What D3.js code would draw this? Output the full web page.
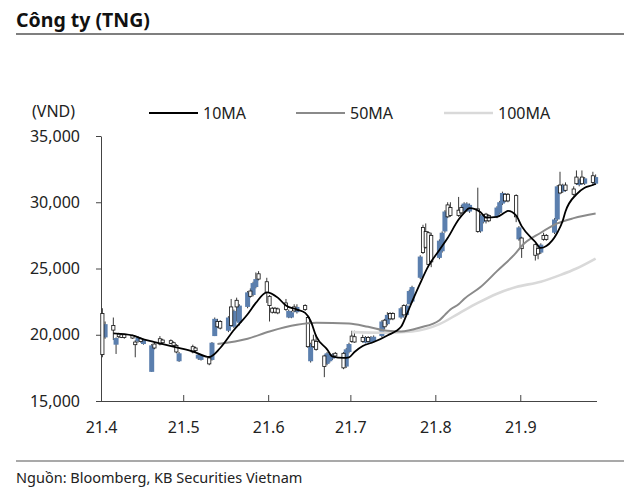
<!DOCTYPE html>
<html><head><meta charset="utf-8">
<script src="https://cdn.jsdelivr.net/npm/d3@7"></script>
<style>
html,body{margin:0;padding:0;background:#fff;}
svg{display:block;font-family:"Noto Sans",sans-serif;}
</style></head>
<body><svg id="c" width="640" height="493"></svg>
<script>
// ---- data ----
const dates = ["04-01","04-02","04-05","04-06","04-07","04-08","04-09","04-12","04-13","04-14","04-15","04-16","04-19","04-20","04-22","04-23","04-26","04-27","04-28","04-29",
"05-04","05-05","05-06","05-07","05-10","05-11","05-12","05-13","05-14","05-17","05-18","05-19","05-20","05-21","05-24","05-25","05-26","05-27","05-28","05-31",
"06-01","06-02","06-03","06-04","06-07","06-08","06-09","06-10","06-11","06-14","06-15","06-16","06-17","06-18","06-21","06-22","06-23","06-24","06-25","06-28","06-29","06-30",
"07-01","07-02","07-05","07-06","07-07","07-08","07-09","07-12","07-13","07-14","07-15","07-16","07-19","07-20","07-21","07-22","07-23","07-26","07-27","07-28","07-29","07-30",
"08-02","08-03","08-04","08-05","08-06","08-09","08-10","08-11","08-12","08-13","08-16","08-17","08-18","08-19","08-20","08-23","08-24","08-25","08-26","08-27","08-30","08-31",
"09-01","09-06","09-07","09-08","09-09","09-10","09-13","09-14","09-15","09-16","09-17","09-20","09-21","09-22","09-23","09-24","09-27","09-28"];
const openP = [21600,19800,20700,19250,20050,20000,20000,19950,19450,19500,19700,19300,17200,19300,19700,19600,19550,19400,19200,18000,
19100,19000,18200,18100,18250,18100,19900,21000,21000,20300,22100,20600,22600,20900,22100,23300,23000,23600,24600,24000,
22900,22000,22000,21950,22400,21300,21300,22100,21700,22200,21300,18000,19600,19500,18400,17800,18000,18200,18600,18600,17600,18700,
19900,19850,19800,19400,19800,19400,19500,19900,21100,20800,21600,21600,21300,22200,21500,22300,22500,24300,28100,27800,27700,27500,
25800,26300,27800,29800,29600,29400,29600,29300,29400,29300,29500,27800,28500,29100,29000,28900,29200,29900,30600,30600,30500,27200,
27300,26800,26500,26200,27500,27500,27700,28700,31300,30800,31300,31000,31900,31300,31900,31400,32000,31400];
const highP = [22000,21000,21300,19800,20150,20100,20050,20000,19600,19900,19800,19700,19300,19400,19900,19700,19650,19500,19300,18700,
19250,19100,18600,18500,18300,19450,21300,21200,21100,21400,22700,21900,22800,22300,23300,23500,24000,24700,24800,24300,
23000,22100,22100,22050,22700,21900,21800,22300,22300,22300,21400,19400,20000,20000,18500,18700,18600,18600,18700,18700,19000,19400,
20300,20300,20000,19900,19900,19900,19950,21100,21200,21700,21700,21700,22100,22300,22300,23400,23700,26000,28300,28400,27800,27700,
27200,27800,29400,30000,30000,30400,29800,30000,30000,29900,31100,29100,29100,29200,29100,29700,30100,30800,30700,30700,30600,28200,
27400,26900,26600,26900,27700,27600,28800,31300,32300,31400,31500,31200,32400,31800,32400,31900,32300,32100];
const lowP = [18300,19700,19600,18550,19750,19750,19700,19700,18300,19400,19400,19250,17200,18900,19200,19300,19300,19100,18600,17950,
18600,18700,18100,18050,17700,18050,19900,20500,20400,20200,20600,20500,21000,20700,22000,22800,22900,23500,24100,22400,
21000,21600,21600,21550,21800,21250,21250,21700,21600,21800,19000,17900,19000,18800,16800,17700,17900,18100,18300,17400,17500,18600,
19400,19400,19400,19350,19400,19350,19450,19800,20400,20700,21100,21100,21200,21300,21400,22300,22400,24200,26100,26500,25100,25100,
25700,26200,27700,28800,28900,28900,29100,29200,29300,29200,27700,27700,28400,28400,28500,28800,29100,29800,30000,30000,28500,27100,
25800,25600,25700,26100,27100,27100,27600,28600,30600,30700,30800,30500,31300,31200,31300,31300,31300,31300];
const closeP = [18500,20800,20350,19750,19850,19800,19800,19750,19250,19800,19500,19600,19200,19000,19300,19400,19350,19200,18700,18600,
18700,18800,18500,18400,17800,19400,21200,20600,20500,21300,20700,21800,22100,22200,23200,22900,23900,24200,24200,23200,
22200,21700,21700,21650,21900,21800,21700,21800,22100,21900,19100,19300,19100,18900,17600,18600,18500,18500,18400,17500,18900,19300,
19500,19450,19500,19800,19500,19800,19850,21000,20600,21500,21200,21200,22000,21500,22200,23300,23600,25900,26200,26600,25300,25500,
27100,27700,29300,28900,29000,29000,29200,29900,29900,29800,27800,29000,29000,28600,28600,29600,30000,30700,30100,30100,28900,28100,
26500,26000,26100,26800,27200,27200,28700,31200,30700,31300,30900,30600,31400,31700,31400,31800,31500,31900];

const ma10Dates = ["04-05","04-12","04-16","04-20","04-28","05-04","05-10","05-14","05-19","05-24","05-27","05-31","06-04","06-07","06-11","06-14","06-16","06-18","06-22","06-24","06-28","06-30","07-02","07-05","07-09","07-14","07-19","07-21","07-22","07-26","07-29","08-02","08-05","08-09","08-11","08-13","08-17","08-19","08-23","08-26","08-27","08-30","09-01","09-06","09-08","09-10","09-14","09-16","09-17","09-21","09-24","09-27","09-28"];
const ma10Vals  = [20100,19950,19650,19450,19050,18750,18320,19000,20360,21550,22400,23200,22800,22200,21900,21650,21050,19900,18900,18350,18250,18300,18700,19150,19450,19950,20600,21500,22000,23900,25200,26400,27300,28700,29200,29550,29250,28850,28900,29250,29350,29000,28200,27000,26550,26700,27700,28600,29300,30600,31100,31300,31400];

const ma50Dates = ["05-13","05-24","06-01","06-11","06-18","06-30","07-07","07-14","07-19","07-26","08-02","08-04","08-06","08-09","08-11","08-17","08-23","08-30","09-01","09-08","09-14","09-20","09-28"];
const ma50Vals  = [19300,19700,20250,20750,20900,20850,20600,20300,20250,20550,21100,21500,21900,22300,22700,23600,24800,26200,26700,27700,28400,28800,29150];

const ma100Dates = ["07-01","07-12","07-23","08-02","08-09","08-16","08-23","08-30","09-08","09-15","09-21","09-28"];
const ma100Vals  = [20200,20150,20250,20800,21600,22400,23100,23600,24000,24500,25000,25750];

const yTicks = [15000,20000,25000,30000,35000];
const xTickDates = ["04-01","05-01","06-01","07-01","08-01","09-01"];
const legendNames = ["10MA","50MA","100MA"];
const legendColors = ["#000000","#8a8a8a","#d9d9d9"];

// ---- chart ----
const parse = s => d3.timeParse("%Y-%m-%d")("2021-" + s);
const svg = d3.select("#c");
const x = d3.scaleTime().domain([parse("04-01"), parse("09-29")]).range([101, 597]);
const y = d3.scaleLinear().domain([15000, 35000]).range([401, 136]);
const half = (x(parse("04-02")) - x(parse("04-01"))) / 2;
const blue = "#5b7fae";

// title
svg.append("text").attr("x", 16).attr("y", 26.5).attr("font-size", 19.5).attr("font-weight", 700)
  .attr("fill", "#111").text("Công ty (TNG)");
svg.append("line").attr("x1", 16).attr("x2", 624).attr("y1", 34).attr("y2", 34)
  .attr("stroke", "#555").attr("stroke-width", 1.5);

// bottom rule & source
svg.append("line").attr("x1", 16).attr("x2", 624).attr("y1", 461).attr("y2", 461)
  .attr("stroke", "#555").attr("stroke-width", 1.2);
svg.append("text").attr("x", 16).attr("y", 483).attr("font-size", 14.5).attr("fill", "#222")
  .text("Nguồn: Bloomberg, KB Securities Vietnam");

// unit
svg.append("text").attr("x", 32).attr("y", 111).attr("dy", "0.35em").attr("font-size", 16).attr("fill", "#222").text("(VND)");

// legend
const legX = [149, 296, 444];
legendNames.forEach((n, i) => {
  svg.append("line").attr("x1", legX[i]).attr("x2", legX[i] + 49).attr("y1", 113).attr("y2", 113)
    .attr("stroke", legendColors[i]).attr("stroke-width", i === 2 ? 2.6 : 2);
  svg.append("text").attr("x", legX[i] + 54).attr("y", 113).attr("dy", "0.35em")
    .attr("font-size", 16).attr("fill", "#222").text(n);
});

// axes
const yAxis = d3.axisLeft(y).tickValues(yTicks).tickFormat(d3.format(",")).tickSize(5).tickPadding(16).tickSizeOuter(0);
const gy = svg.append("g").attr("transform", "translate(101,0)").call(yAxis);
gy.selectAll("text").attr("font-size", 16).attr("fill", "#222").attr("font-family", "Noto Sans");
gy.selectAll("line,path").attr("stroke", "#444");

const xAxis = d3.axisBottom(x).tickValues(xTickDates.map(parse)).tickFormat(d3.timeFormat("%y.%-m"))
  .tickSizeInner(-6).tickSizeOuter(0).tickPadding(21);
const gx = svg.append("g").attr("transform", "translate(0,401)").call(xAxis);
gx.selectAll("text").attr("font-size", 16).attr("fill", "#222").attr("font-family", "Noto Sans");
gx.selectAll("line,path").attr("stroke", "#444");
gx.select("path").attr("d", "M96,0.5H597");

// candles
const rows = dates.map((d, i) => ({d: parse(d), o: openP[i], h: highP[i], l: lowP[i], c: closeP[i]}));
const ups = rows.filter(r => r.c > r.o), downs = rows.filter(r => r.c <= r.o);
const cg = svg.append("g");
cg.selectAll("line.w").data(rows).enter().append("line")
  .attr("x1", r => x(r.d) + half).attr("x2", r => x(r.d) + half)
  .attr("y1", r => y(r.h)).attr("y2", r => y(r.l))
  .attr("stroke", "#222").attr("stroke-width", 0.9);
cg.selectAll("rect.up").data(ups).enter().append("rect")
  .attr("x", r => x(r.d) + half - 2.5).attr("width", 5)
  .attr("y", r => y(r.c))
  .attr("height", r => Math.max(1, y(r.o) - y(r.c)))
  .attr("fill", blue);
cg.selectAll("rect.dn").data(downs).enter().append("rect")
  .attr("x", r => x(r.d) + half - 1.6).attr("width", 3.2)
  .attr("y", r => y(r.o))
  .attr("height", r => Math.max(1, y(r.c) - y(r.o)))
  .attr("fill", "#fff").attr("stroke", "#111").attr("stroke-width", 0.8);

// moving averages
function drawLine(ds, vs, color, w) {
  const pts = ds.map((d, i) => [x(parse(d)) + half, y(vs[i])]);
  svg.append("path").attr("d", d3.line().curve(d3.curveMonotoneX)(pts))
    .attr("fill", "none").attr("stroke", color).attr("stroke-width", w);
}
drawLine(ma100Dates, ma100Vals, legendColors[2], 2.6);
drawLine(ma50Dates, ma50Vals, legendColors[1], 2);
drawLine(ma10Dates, ma10Vals, legendColors[0], 1.8);
</script></body></html>
